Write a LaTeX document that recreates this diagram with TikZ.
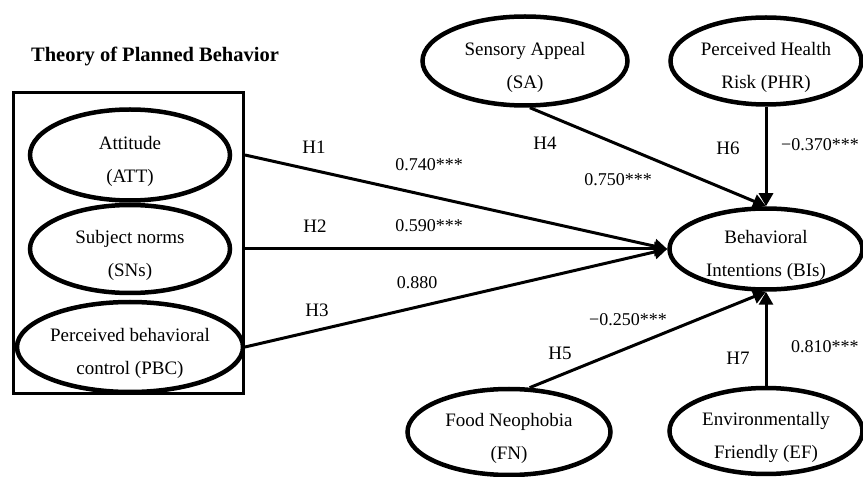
\documentclass[tikz,border=0pt]{standalone}
\usepackage{fontspec}
\setmainfont{Liberation Serif}
\usetikzlibrary{shapes.geometric,arrows.meta}
\newcommand{\twol}[2]{\smash{\raisebox{-11pt}{\begin{tabular}{@{}c@{}}#1\\[10pt]#2\end{tabular}}}}
\begin{document}
\begin{tikzpicture}[x=1pt,y=1pt,
  construct/.style={draw=black, line width=4.5pt, ellipse, inner sep=0pt,
    font=\fontsize{19}{23}\selectfont},
  link/.style={line width=3pt, -{Triangle[length=13pt,width=14pt]}},
  lab/.style={font=\fontsize{19}{22}\selectfont, inner sep=0pt},
  val/.style={font=\fontsize{18}{22}\selectfont, inner sep=0pt}]
\useasboundingbox (0,0) rectangle (863,477);
\node[font=\bfseries\fontsize{20.5}{24}\selectfont, inner sep=0pt] (title) at (155,421) {Theory of Planned Behavior};
\node[draw, line width=3pt, minimum width=230pt, minimum height=301pt, inner sep=0pt] (box) at (128.5,234) {};
\node[construct, minimum width=200pt, minimum height=91pt] (att) at (130,322) {\twol{Attitude}{(ATT)}};
\node[construct, minimum width=200pt, minimum height=88pt] (sn) at (130,228) {\twol{Subject norms}{(SNs)}};
\node[construct, minimum width=200pt, minimum height=90pt] (pbc) at (130,130) {\twol{Perceived behavioral}{control (PBC)}};
\node[construct, minimum width=205pt, minimum height=89pt] (sa) at (525,416) {\twol{Sensory Appeal}{(SA)}};
\node[construct, minimum width=191pt, minimum height=87pt] (phr) at (766,416) {\twol{Perceived Health}{Risk (PHR)}};
\node[construct, minimum width=193pt, minimum height=81pt] (bi) at (766,228) {\twol{Behavioral}{Intentions (BIs)}};
\node[construct, minimum width=203pt, minimum height=86pt] (fn) at (509,45) {\twol{Food Neophobia}{(FN)}};
\node[construct, minimum width=193pt, minimum height=86pt] (ef) at (766,46) {\twol{Environmentally}{Friendly (EF)}};
\draw[link] (box.east |- att) -- (bi.west);
\draw[link] (box.east |- sn) -- (bi.west);
\draw[link] (box.east |- pbc) -- (bi.west);
\draw[link] (sa.-84) -- (bi.north);
\draw[link] (phr.south) -- (bi.north);
\draw[link] (fn.65) -- (bi.south);
\draw[link] (ef.north) -- (bi.south);
\node[lab] (h1) at (314,330) {H1};
\node[val] (v1) at (429,312) {0.740***};
\node[lab] (h2) at (315,251) {H2};
\node[val] (v2) at (429,251) {0.590***};
\node[lab] (h3) at (317,167) {H3};
\node[val] (v3) at (417,194) {0.880};
\node[lab] (h4) at (545,334) {H4};
\node[val] (v4) at (618,297) {0.750***};
\node[lab] (h6) at (728,329) {H6};
\node[val, anchor=west] (v6) at (781,332) {−0.370***};
\node[lab] (h5) at (560,124) {H5};
\node[val] (v5) at (628,157) {−0.250***};
\node[lab] (h7) at (738,119) {H7};
\node[val, anchor=west] (v7) at (791,130) {0.810***};
\end{tikzpicture}
\end{document}
